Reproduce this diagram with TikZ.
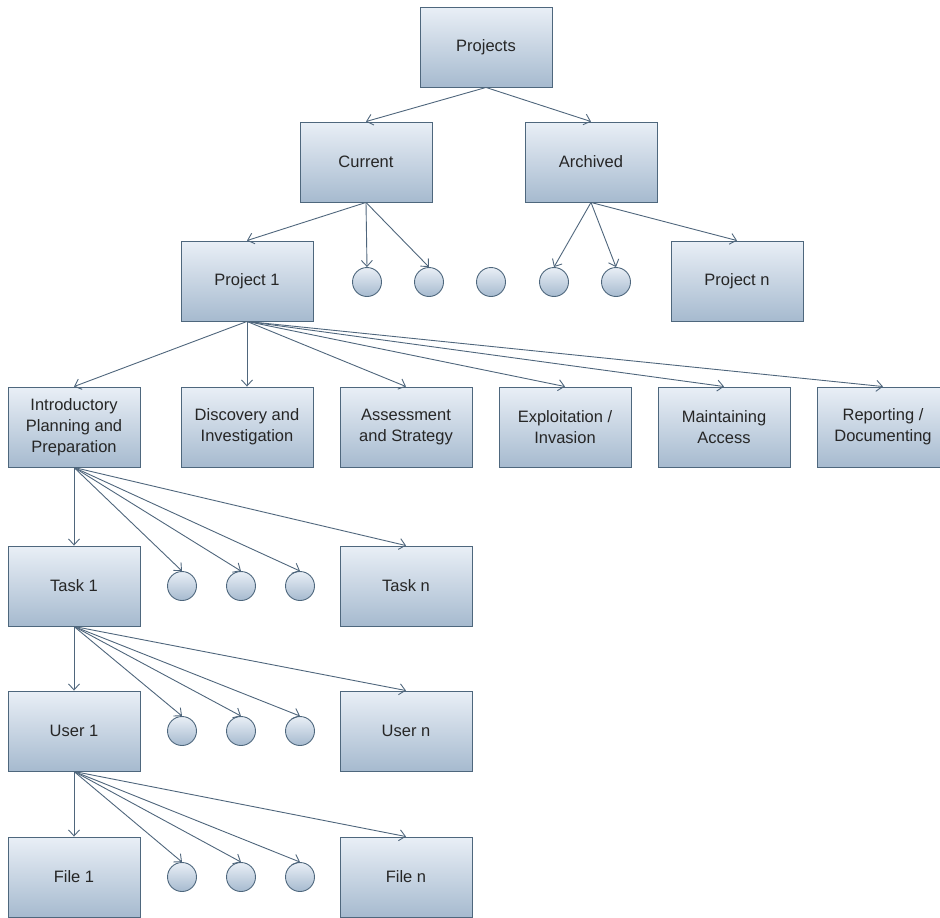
\documentclass[tikz,border=0pt]{standalone}
\usepackage{fontspec}
\setmainfont{Liberation Sans}
\usetikzlibrary{arrows.meta}
\definecolor{boxtop}{HTML}{E9EFF6}
\definecolor{boxbot}{HTML}{A6BACF}
\definecolor{edge}{HTML}{4E677D}
\definecolor{arr}{HTML}{4F667C}
\begin{document}
\begin{tikzpicture}[x=1pt,y=-1pt,
  box/.style={draw=edge,line width=0.9pt,top color=boxtop,bottom color=boxbot,
    minimum width=132pt,minimum height=80pt,align=center,inner sep=2pt,
    font=\fontsize{16.5}{21}\selectfont,text=black!85},
  dot/.style={circle,draw=edge,line width=0.9pt,top color=boxtop,bottom color=boxbot,
    minimum size=29pt,inner sep=0pt},
  link/.style={draw=arr,line width=0.9pt,-{Straight Barb[length=6pt,width=11pt]}}]
\useasboundingbox (0,0) rectangle (940,918);
% level 0
\node[box] (proj) at (486,47) {Projects};
% level 1
\node[box] (cur) at (366,162) {Current};
\node[box] (arc) at (591,162) {Archived};
% level 2
\node[box] (p1) at (247,281) {Project 1};
\node[dot] (c1) at (367,282) {};
\node[dot] (c2) at (429,282) {};
\node[dot] (c3) at (491,282) {};
\node[dot] (c4) at (554,282) {};
\node[dot] (c5) at (616,282) {};
\node[box] (pn) at (737,281) {Project n};
% level 3
\node[box] (ph1) at (74,427) {Introductory\\Planning and\\Preparation};
\node[box] (ph2) at (247,427) {Discovery and\\Investigation};
\node[box] (ph3) at (406,427) {Assessment\\and Strategy};
\node[box] (ph4) at (565,427) {Exploitation /\\Invasion};
\node[box] (ph5) at (724,427) {Maintaining\\Access};
\node[box] (ph6) at (883,427) {Reporting /\\Documenting};
% tasks
\node[box] (t1) at (74,586) {Task 1};
\node[dot] (tc1) at (182,586) {};
\node[dot] (tc2) at (241,586) {};
\node[dot] (tc3) at (300,586) {};
\node[box] (tn) at (406,586) {Task n};
% users
\node[box] (u1) at (74,731) {User 1};
\node[dot] (uc1) at (182,731) {};
\node[dot] (uc2) at (241,731) {};
\node[dot] (uc3) at (300,731) {};
\node[box] (un) at (406,731) {User n};
% files
\node[box] (f1) at (74,877) {File 1};
\node[dot] (fc1) at (182,877) {};
\node[dot] (fc2) at (241,877) {};
\node[dot] (fc3) at (300,877) {};
\node[box] (fn) at (406,877) {File n};
% connectors
\draw[link] (proj.south) -- (cur.north);
\draw[link] (proj.south) -- (arc.north);
\draw[link] (cur.south) -- (p1.north);
\draw[link] (cur.south) -- (c1.north);
\draw[link] (cur.south) -- (c2.north);
\draw[link] (arc.south) -- (c4.north);
\draw[link] (arc.south) -- (c5.north);
\draw[link] (arc.south) -- (pn.north);
\foreach \n in {ph1,ph2,ph3,ph4,ph5,ph6}{\draw[link] (p1.south) -- (\n.north);}
\foreach \n in {t1,tc1,tc2,tc3,tn}{\draw[link] (ph1.south) -- (\n.north);}
\foreach \n in {u1,uc1,uc2,uc3,un}{\draw[link] (t1.south) -- (\n.north);}
\foreach \n in {f1,fc1,fc2,fc3,fn}{\draw[link] (u1.south) -- (\n.north);}
\end{tikzpicture}
\end{document}
